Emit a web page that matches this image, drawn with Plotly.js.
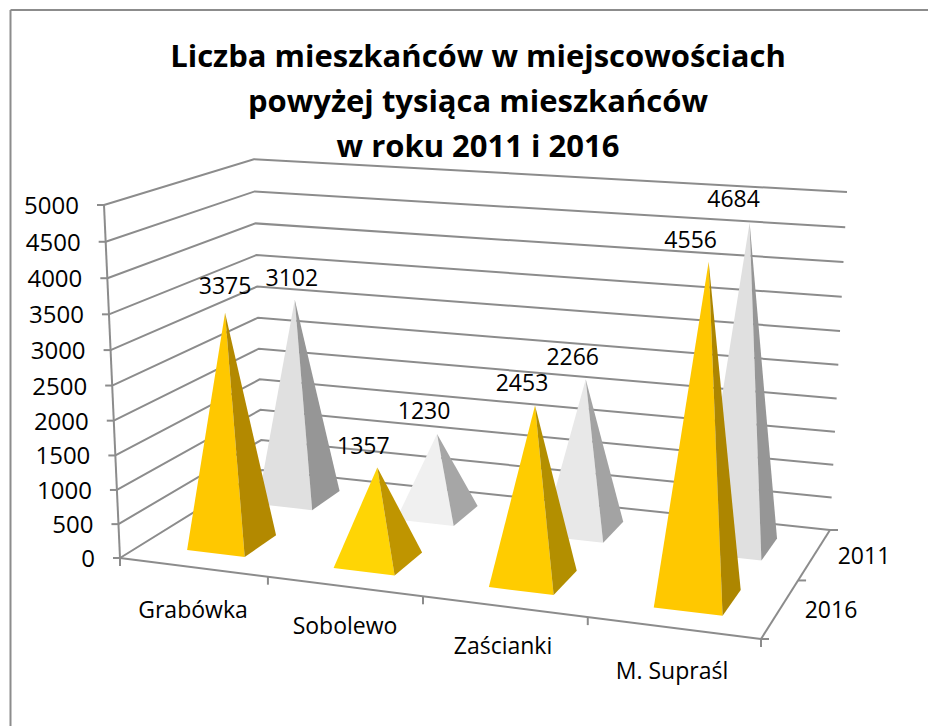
<!DOCTYPE html>
<html><head><meta charset="utf-8">
<script src="https://cdn.plot.ly/plotly-3.0.1.min.js"></script>
<style>html,body{margin:0;padding:0;background:#fff}#c{width:928px;height:726px}</style>
</head><body><div id="c"></div>
<script>
const categories = ["Grabówka","Sobolewo","Zaścianki","M. Supraśl"];
const seriesNames = ["2016","2011"];
const values2016 = [3375,1357,2453,4556];
const values2011 = [3102,1230,2266,4684];
const valueTicks = [0,500,1000,1500,2000,2500,3000,3500,4000,4500,5000];
const valueMax = 5000;

const frontColors2016 = ["#FFC800","#FFD505","#FFCC00","#FFC800"];
const sideColors2016  = ["#B38900","#BF9500","#B38F00","#AD8600"];
const frontColors2011 = ["#E0E0E0","#F0F0F0","#E8E8E8","#E0E0E0"];
const sideColors2011  = ["#969696","#A6A6A6","#A3A3A3","#969696"];
const labelOffsets2016 = [[0,-25],[-14,-19],[-13,-20],[-18,-20]];
const labelOffsets2011 = [[-3,-20],[-13,-21],[-13,-20],[-16,-22]];
const catLabelPos = [[193,612],[345,628],[503,648],[672,673]];
const seriesLabelPos = [[831,612],[864,558]];

const GRID = "#8c8c8c", FONT = "'Open Sans', 'Noto Sans', sans-serif";

// Pixel anchors of the 3D box, used to calibrate the projection.
const FL=[120,558], FR=[761,639], BR=[830,530], BL=[262,470];
const FLt=[104,205], BLt=[253,158], BRt=[847,192];

const dx1=FR[0]-BR[0], dx2=BL[0]-BR[0], sx=FL[0]-FR[0]+BR[0]-BL[0];
const dy1=FR[1]-BR[1], dy2=BL[1]-BR[1], sy=FL[1]-FR[1]+BR[1]-BL[1];
const den=dx1*dy2-dx2*dy1;
const g=(sx*dy2-dx2*sy)/den, h=(dx1*sy-sx*dy1)/den;
const a=FR[0]-FL[0]+g*FR[0], b=BL[0]-FL[0]+h*BL[0], c=FL[0];
const d=FR[1]-FL[1]+g*FR[1], e=BL[1]-FL[1]+h*BL[1], f=FL[1];
let num=0, dn=0;
[[BLt[0],FLt[0],b+c,h+1,c],[BLt[1],FLt[1],e+f,h+1,f],[BRt[0],FLt[0],a+b+c,g+h+1,c],[BRt[1],FLt[1],d+e+f,g+h+1,f]]
 .forEach(([P,X,n0,w0,k])=>{const m=P-X, r=n0+X-k-P*w0; num+=m*r; dn+=m*m;});
const C=num/dn, A=FLt[0]*(1+C)-c, B=FLt[1]*(1+C)-f;
function rawProj(u,v,t){const w=g*u+h*v+1+C*t;
  return [(a*u+b*v+c+A*t)/w,(d*u+e*v+f+B*t)/w];}
const rawTop=rawProj(1,1,1), resX=BRt[0]-rawTop[0], resY=BRt[1]-rawTop[1];
function proj(u,v,val){const t=val/valueMax, p=rawProj(u,v,t);
  return [p[0]+t*u*resX,p[1]+t*u*resY];}

const traces=[];
function line(pts,width,color){traces.push({type:"scatter",mode:"lines",x:pts.map(p=>p[0]),y:pts.map(p=>p[1]),
  line:{color:color||GRID,width:width||2},hoverinfo:"skip",showlegend:false});}
function poly(pts,color){traces.push({type:"scatter",mode:"lines",x:pts.map(p=>p[0]).concat(pts[0][0]),y:pts.map(p=>p[1]).concat(pts[0][1]),
  fill:"toself",fillcolor:color,line:{width:0,color:color},hoverinfo:"skip",showlegend:false});}
function labels(pts,texts,pos,size){traces.push({type:"scatter",mode:"text",x:pts.map(p=>p[0]),y:pts.map(p=>p[1]),text:texts,
  textposition:pos||"middle center",textfont:{family:FONT,size:size||23,color:"#000"},hoverinfo:"skip",showlegend:false,cliponaxis:false});}

// walls
valueTicks.forEach(v=>{
  line([proj(0,0,v),proj(0,1,v),proj(1,1,v)]);
  const p=proj(0,0,v); line([[p[0]-7,p[1]],p]);
});
line([proj(0,0,0),proj(0,0,valueMax)]);
// floor axes
line([proj(0,0,0),proj(1,0,0)]);
line([proj(1,0,0),proj(1,1,0)]);
[0,.25,.5,.75,1].map(u=>u===0||u===1?u:u+0.003).forEach(u=>{const p=proj(u,0,0); line([p,[p[0],p[1]+8]]);});
[0,.5,1].forEach(v=>{const p=proj(1,v,0); line([p,[p[0]+8,p[1]]]);});

const halfU=0.05, halfV=0.112, shiftU=0.005;
function pyramid(i,vc,val,front,side){
  const uc=(i+.5)/categories.length+shiftU, top=proj(uc,vc,val);
  const fl=proj(uc-halfU,vc-halfV,0), fr=proj(uc+halfU,vc-halfV,0), br=proj(uc+halfU,vc+halfV,0);
  poly([fl,fr,top],front); poly([fr,br,top],side);
}
categories.forEach((_,i)=>pyramid(i,.75,values2011[i],frontColors2011[i],sideColors2011[i]));
categories.forEach((_,i)=>pyramid(i,.25,values2016[i],frontColors2016[i],sideColors2016[i]));

labels(valueTicks.map(v=>{const p=proj(0,0,v);return [p[0]-25,p[1]+3];}),valueTicks.map(String),"middle left",24);
labels(categories.map((_,i)=>{const p=proj((i+.5)/4+shiftU,.25,values2016[i]);return [p[0]+labelOffsets2016[i][0],p[1]+labelOffsets2016[i][1]];}),values2016.map(String));
labels(categories.map((_,i)=>{const p=proj((i+.5)/4+shiftU,.75,values2011[i]);return [p[0]+labelOffsets2011[i][0],p[1]+labelOffsets2011[i][1]];}),values2011.map(String));
labels(catLabelPos,categories);
labels(seriesLabelPos,seriesNames);

const layout={width:928,height:726,margin:{l:0,r:0,t:0,b:0},paper_bgcolor:"#fff",plot_bgcolor:"#fff",showlegend:false,
  xaxis:{range:[0,928],visible:false,fixedrange:true},yaxis:{range:[726,0],visible:false,fixedrange:true},
  title:{text:'<span style="font-size:31px">Liczba mieszkańców w miejscowościach<br>powyżej tysiąca mieszkańców<br>w roku 2011 i 2016</span>',
    font:{family:FONT,size:34.5,color:"#000",weight:700},x:478/928,xanchor:"center",y:1-67/726,yanchor:"middle",yref:"paper",automargin:false},
  shapes:[{type:"line",xref:"paper",yref:"paper",x0:10.5/928,x1:1,y0:1-10/726,y1:1-10/726,line:{color:"#8c8c8c",width:2}},
          {type:"line",xref:"paper",yref:"paper",x0:10.5/928,x1:10.5/928,y0:0,y1:1-10/726,line:{color:"#8c8c8c",width:2}}]};
Plotly.newPlot("c",traces,layout,{displayModeBar:false,staticPlot:true});
</script></body></html>
